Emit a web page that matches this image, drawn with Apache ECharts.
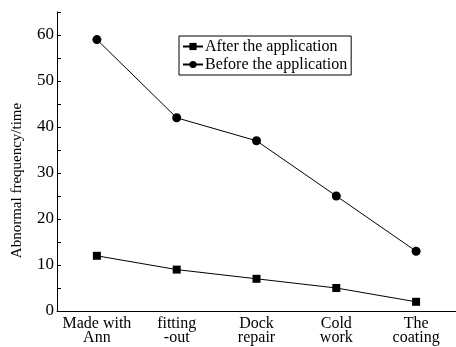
<!DOCTYPE html>
<html>
<head>
<meta charset="utf-8">
<script src="https://cdn.jsdelivr.net/npm/echarts@6/dist/echarts.min.js"></script>
<style>html,body{margin:0;padding:0;background:#fff}#c{width:456px;height:347px}</style>
</head>
<body>
<div id="c"></div>
<script>
var categories = ['Made with\nAnn', 'fitting\n-out', 'Dock\nrepair', 'Cold\nwork', 'The\ncoating'];
var afterValues = [12, 9, 7, 5, 2];
var beforeValues = [59, 42, 37, 25, 13];
var yTickLabels = [0, 10, 20, 30, 40, 50, 60];

var FONT = 'Liberation Serif';
var chart = echarts.init(document.getElementById('c'), null, {renderer: 'canvas'});
chart.setOption({
  animation: false,
  backgroundColor: '#fff',
  grid: {left: 57, top: 12, width: 405, bottom: 36, containLabel: false},
  legend: {
    orient: 'vertical',
    left: 179, top: 36,
    width: 170,
    padding: [2, 4, 2, 3],
    itemGap: 1,
    itemWidth: 20, itemHeight: 9,
    borderColor: '#000', borderWidth: 1,
    textStyle: {fontFamily: FONT, fontSize: 16, color: '#000', lineHeight: 17, padding: [0, 0, 0, -3]},
    data: ['After the application', 'Before the application']
  },
  xAxis: [{
    type: 'category',
    data: categories,
    boundaryGap: true,
    axisLine: {lineStyle: {color: '#000', width: 1}},
    axisTick: {alignWithLabel: true, inside: true, length: 5, lineStyle: {color: '#000'}},
    axisLabel: {fontFamily: FONT, fontSize: 16, color: '#000', lineHeight: 14, margin: 6, interval: 0}
  }, {
    type: 'category',
    data: categories,
    boundaryGap: true,
    position: 'bottom',
    axisLine: {show: false},
    axisTick: {inside: true, length: 3, lineStyle: {color: '#000'}},
    axisLabel: {show: false}
  }],
  yAxis: {
    type: 'value',
    min: 0, max: 65, interval: 5,
    name: 'Abnormal frequency/time',
    nameLocation: 'middle',
    nameGap: 32,
    nameTextStyle: {fontFamily: FONT, fontSize: 15, color: '#000', padding: [0, 38, 0, 0]},
    splitLine: {show: false},
    axisLine: {show: true, lineStyle: {color: '#000', width: 1}},
    axisTick: {show: true, inside: true, length: 4, lineStyle: {color: '#000'}},
    axisLabel: {
      fontFamily: FONT, fontSize: 17, color: '#000', margin: 3,
      formatter: function (v) { return yTickLabels.indexOf(v) >= 0 ? String(v) : ''; }
    }
  },
  series: [{
    name: 'After the application',
    type: 'line',
    data: afterValues,
    symbol: 'rect', symbolSize: 8,
    itemStyle: {color: '#000'},
    lineStyle: {color: '#000', width: 1}
  }, {
    name: 'Before the application',
    type: 'line',
    data: beforeValues,
    symbol: 'circle', symbolSize: 9,
    itemStyle: {color: '#000'},
    lineStyle: {color: '#000', width: 1}
  }]
});
</script>
</body>
</html>
